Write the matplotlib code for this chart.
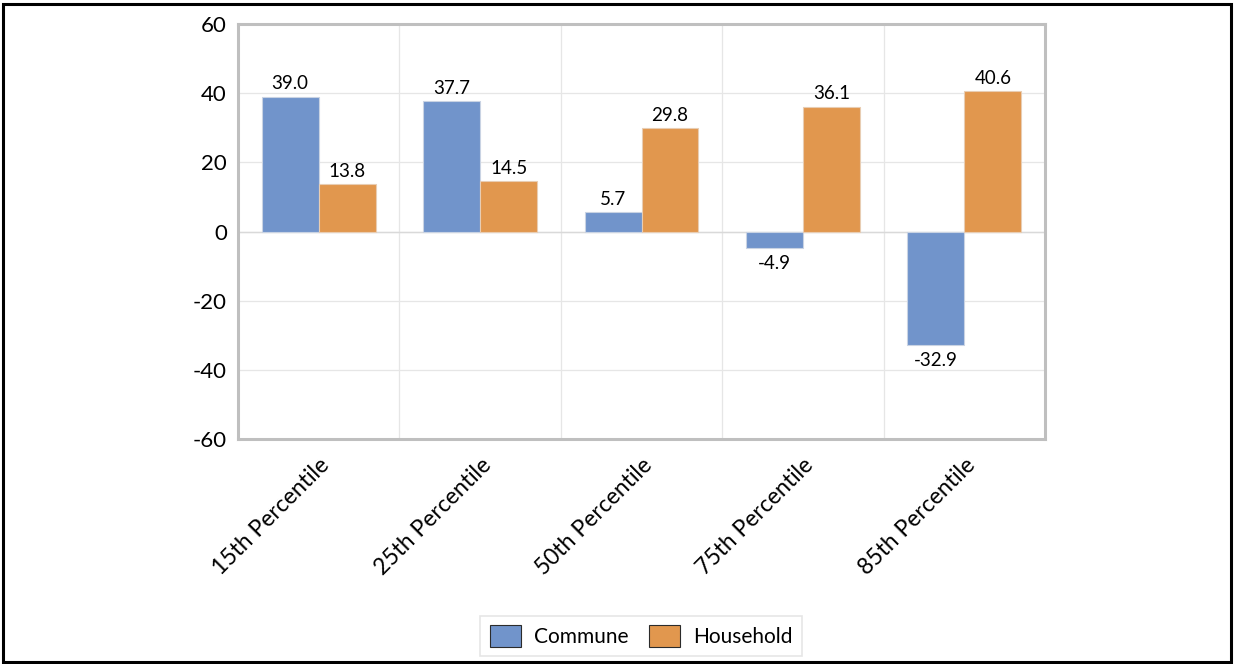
import matplotlib
matplotlib.use("Agg")
import matplotlib.pyplot as plt
import numpy as np
from matplotlib.patches import Rectangle

categories = ["15th Percentile", "25th Percentile", "50th Percentile", "75th Percentile", "85th Percentile"]
commune = [39.0, 37.7, 5.7, -4.9, -32.9]
household = [13.8, 14.5, 29.8, 36.1, 40.6]
yticks = [-60, -40, -20, 0, 20, 40, 60]

plt.rcParams['font.family'] = ['Lato', 'DejaVu Sans']

W, H = 1234, 664
fig = plt.figure(figsize=(W/100, H/100), dpi=100)
ax = fig.add_axes([238/W, 1-439/H, (1045-238)/W, (439-24)/H])

blue = "#7194CB"
orange = "#E1974E"
x = np.arange(len(categories))
bw = 0.353
b1 = ax.bar(x - bw/2, commune, bw, color=blue, edgecolor="#C9D3E3", linewidth=0.8, zorder=3)
b2 = ax.bar(x + bw/2, household, bw, color=orange, edgecolor="#E8CDB3", linewidth=0.8, zorder=3)

for bars, vals in ((b1, commune), (b2, household)):
    for r, v in zip(bars, vals):
        cx = r.get_x() + r.get_width()/2
        if v >= 0:
            ax.annotate(f"{v:.1f}", (cx, v), xytext=(0, 3), textcoords="offset points",
                        ha="center", va="bottom", fontsize=13.5)
        else:
            ax.annotate(f"{v:.1f}", (cx, v), xytext=(0, -5), textcoords="offset points",
                        ha="center", va="top", fontsize=13.5)

ax.set_xlim(-0.5, len(categories) - 0.5)
ax.set_ylim(-60, 60)
ax.set_yticks(yticks)
ax.set_yticklabels([str(t) for t in yticks], fontsize=16)
ax.set_xticks(x)
ax.set_xticklabels(categories, rotation=45, ha="right", rotation_mode="anchor", fontsize=16.5)
ax.tick_params(axis="both", length=0)
ax.tick_params(axis="x", pad=11)
ax.tick_params(axis="y", pad=8)

# grid
ax.set_axisbelow(True)
for yv in yticks:
    ax.axhline(yv, color="#E6E6E6", linewidth=0.9, zorder=0)
for b in np.arange(0.5, len(categories) - 0.5, 1.0):
    ax.axvline(b, color="#E6E6E6", linewidth=0.9, zorder=0)
ax.axhline(0, color="#D9D9D9", linewidth=1.0, zorder=1)

for s in ax.spines.values():
    s.set_color("#BFBFBF")
    s.set_linewidth(2.2)

leg = fig.legend([Rectangle((0, 0), 1, 1, facecolor=blue, edgecolor="#2b2b2b", linewidth=0.8),
                  Rectangle((0, 0), 1, 1, facecolor=orange, edgecolor="#2b2b2b", linewidth=0.8)],
                 ["Commune", "Household"], loc="center", bbox_to_anchor=(641/W, 1-636/H),
                 ncol=2, fontsize=15, frameon=True, fancybox=False, handlelength=1.5,
                 handleheight=1.2, columnspacing=1.0, borderpad=0.45, handletextpad=0.6)
leg.get_frame().set_edgecolor("#E0E0E0")
leg.get_frame().set_linewidth(1.2)

# outer frame
fig.patches.append(Rectangle((3/W, 2/H), 1 - 6/W, 1 - 6/H, transform=fig.transFigure,
                             fill=False, edgecolor="black", linewidth=2.2))

fig.savefig("out.png", dpi=100)
